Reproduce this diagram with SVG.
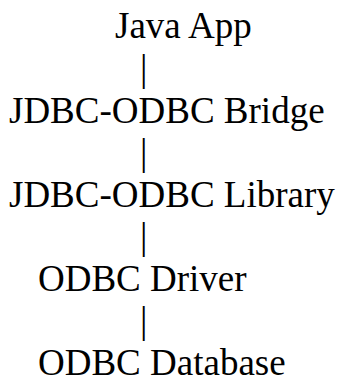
<svg xmlns="http://www.w3.org/2000/svg" width="342" height="384" viewBox="0 0 342 384">
<style>
text{font-family:"Liberation Serif","Times New Roman",serif;font-size:37px;fill:#000}
</style>
<rect width="342" height="384" fill="#fff"/>
<g id="java-app"><text x="115" y="38">Java App</text></g>
<g id="jdbc-odbc-bridge"><text x="9" y="123">JDBC-ODBC Bridge</text></g>
<g id="jdbc-odbc-library"><text x="9" y="207">JDBC-ODBC Library</text></g>
<g id="odbc-driver"><text x="38" y="291">ODBC Driver</text></g>
<g id="odbc-database"><text x="38" y="375">ODBC Database</text></g>
<g id="connectors">
<text x="140" y="81">|</text>
<text x="140" y="165">|</text>
<text x="140" y="249">|</text>
<text x="140" y="333">|</text>
</g>
</svg>
